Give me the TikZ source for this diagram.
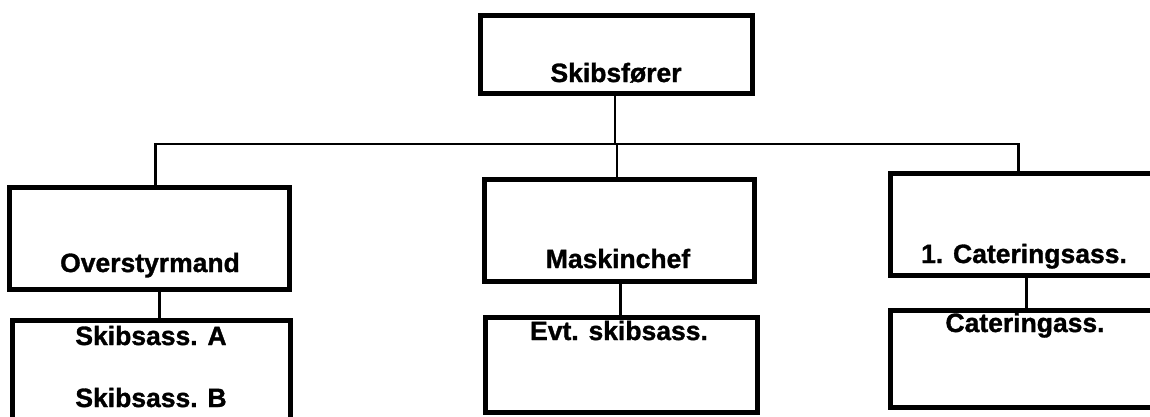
\documentclass[tikz,border=0pt]{standalone}
\usepackage{fontspec}
\setmainfont[BoldFeatures={FakeBold=1.2}]{Liberation Sans}
\begin{document}
\begin{tikzpicture}[x=1pt,y=-1pt,
  box/.style={draw=black,line width=5pt,fill=none,inner sep=0pt,anchor=north west},
  lbl/.style={font=\bfseries\fontsize{26.5}{30}\selectfont,anchor=base,inner sep=0pt},
  conn/.style={draw=black,line width=2.5pt}]
\useasboundingbox (0,0) rectangle (1150,416);
\clip (0,0) rectangle (1150,416);
% boxes
\node[box,minimum width=272pt,minimum height=78pt] (top) at (478,13) {};
\node[box,minimum width=280pt,minimum height=102pt] (left) at (7,185) {};
\node[box,minimum width=278pt,minimum height=100pt] (leftb) at (10,318) {};
\node[box,minimum width=270pt,minimum height=102pt] (mid) at (482,177) {};
\node[box,minimum width=272pt,minimum height=95pt] (midb) at (483,315) {};
\node[box,minimum width=280pt,minimum height=102pt] (right) at (888,171) {};
\node[box,minimum width=280pt,minimum height=97pt] (rightb) at (888,308) {};
% labels
\node[lbl] (t1) at (616,82) {Skibsfører};
\node[lbl] (t2) at (150,272) {Overstyrmand};
\node[lbl] (t3) at (151,345) {Skibsass. A};
\node[lbl] (t4) at (151,407) {Skibsass. B};
\node[lbl] (t5) at (618,268) {Maskinchef};
\node[lbl] (t6) at (619,340) {Evt. skibsass.};
\node[lbl] (t7) at (1024,263) {1. Cateringsass.};
\node[lbl] (t8) at (1025,332) {Cateringass.};
% connectors
\coordinate (bus) at (615,144);
\draw[conn] (top.south -| bus) -- (bus);
\draw[conn] ([xshift=6pt]left.north) |- (bus);
\draw[conn] (bus) -| ([xshift=-12pt]right.north);
\draw[conn] (mid.north -| bus) ++(2,0) -- ++(0,-33);
\draw[conn] ([xshift=10pt]left.south) -- ([xshift=10pt]left.south |- leftb.north);
\draw[conn] ([xshift=1pt]mid.south) -- ([xshift=1pt]mid.south |- midb.north);
\draw[conn] ([xshift=-4pt]right.south) -- ([xshift=-4pt]right.south |- rightb.north);
\end{tikzpicture}
\end{document}
